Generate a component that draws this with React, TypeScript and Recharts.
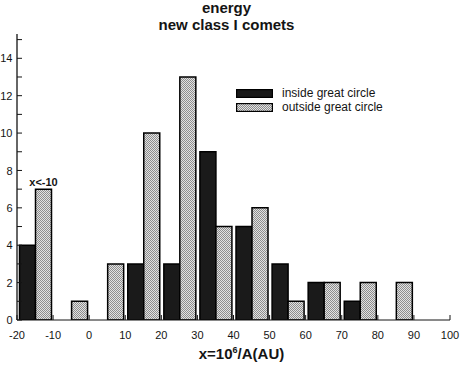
import React from 'react';
import { BarChart, Bar, XAxis, YAxis, Legend, LabelList } from 'recharts';

// Bin centers of x = 10^6/A(AU), bins 10 wide
const binCenters = [-15, -5, 5, 15, 25, 35, 45, 55, 65, 75, 85, 95];
const insideCounts = [4, 0, 0, 3, 3, 9, 5, 3, 2, 1, 0, 0];
const outsideCounts = [7, 1, 3, 10, 13, 5, 6, 1, 2, 2, 2, 0];
const binNotes = ['x<-10', '', '', '', '', '', '', '', '', '', '', ''];

const xTicks = [-20, -10, 0, 10, 20, 30, 40, 50, 60, 70, 80, 90, 100];
const yTicks = [0, 1, 2, 3, 4, 5, 6, 7, 8, 9, 10, 11, 12, 13, 14, 15];

const titleLines = ['energy', 'new class I comets'];
const seriesNames = ['inside great circle', 'outside great circle'];

const data = binCenters.map((x, i) => ({
  x,
  inside: insideCounts[i],
  outside: outsideCounts[i],
  note: binNotes[i],
}));

const INK = '#141414';
const FONT = 'Arial, "Liberation Sans", Helvetica, sans-serif';

const YTick = (props: any) => {
  const { x, y, payload } = props;
  const v = payload.value;
  return (
    <g>
      <line x1={x} x2={x + 5} y1={y} y2={y} stroke={INK} strokeWidth={1} />
      {v % 2 === 0 && (
        <text x={x - 4.5} y={y} dy="0.38em" textAnchor="end" fontSize={11} fill={INK} fontFamily={FONT}>
          {v}
        </text>
      )}
    </g>
  );
};

const XTick = (props: any) => {
  const { x, y, payload } = props;
  return (
    <g>
      <line x1={x} x2={x} y1={y} y2={y - 5} stroke={INK} strokeWidth={1} />
      <text x={x} y={y + 19} textAnchor="middle" fontSize={11} fill={INK} fontFamily={FONT}>
        {payload.value}
      </text>
    </g>
  );
};

const LegendContent = (props: any) => {
  const payload = props.payload || [];
  return (
    <div style={{ fontFamily: FONT, fontSize: 12, color: INK }}>
      {payload.map((p: any, i: number) => (
        <div key={i} style={{ display: 'flex', alignItems: 'center', height: 14, whiteSpace: 'nowrap' }}>
          <svg width={37} height={9} style={{ display: 'block' }}>
            <rect
              x={0.6}
              y={0.6}
              width={35.8}
              height={7.8}
              fill={p.dataKey === 'inside' ? '#1a1a1a' : 'url(#stipple)'}
              stroke="#000"
              strokeWidth={1.2}
            />
          </svg>
          <span style={{ marginLeft: 9 }}>{p.value}</span>
        </div>
      ))}
    </div>
  );
};

export default function App() {
  return (
    <div style={{ position: 'absolute', left: 0, top: 0, width: 462, height: 369, background: '#fff', fontFamily: FONT }}>
      <BarChart
        width={462}
        height={369}
        data={data}
        margin={{ top: 34, right: 12, bottom: 0, left: 0 }}
        barGap={0}
        barCategoryGap={2.5}
      >
        <defs>
          <pattern id="stipple" patternUnits="userSpaceOnUse" width={2} height={2}>
            <rect x={0} y={0} width={2} height={2} fill="#e2e2e2" />
            <rect x={0} y={0} width={1} height={1} fill="#8e8e8e" />
            <rect x={1} y={1} width={1} height={1} fill="#8e8e8e" />
          </pattern>
        </defs>
        <XAxis
          dataKey="x"
          type="number"
          domain={[-20, 100]}
          ticks={xTicks}
          interval={0}
          height={49}
          tickSize={0}
          tickMargin={0}
          tickLine={false}
          tick={<XTick />}
          axisLine={{ stroke: INK, strokeWidth: 1 }}
          allowDataOverflow
        />
        <YAxis
          type="number"
          domain={[0, 15.3]}
          ticks={yTicks}
          interval={0}
          width={17}
          tickSize={0}
          tickMargin={0}
          tickLine={false}
          tick={<YTick />}
          axisLine={{ stroke: INK, strokeWidth: 1.3 }}
          allowDataOverflow
        />
        <Legend
          layout="vertical"
          align="center"
          verticalAlign="middle"
          content={<LegendContent />}
          wrapperStyle={{ left: 236, top: 86, width: 'auto', height: 'auto' }}
        />
        <Bar
          dataKey="inside"
          name={seriesNames[0]}
          fill="#1a1a1a"
          stroke="#000"
          strokeWidth={1.5}
          isAnimationActive={false}
        />
        <Bar
          dataKey="outside"
          name={seriesNames[1]}
          fill="url(#stipple)"
          stroke="#000"
          strokeWidth={1.5}
          isAnimationActive={false}
        >
          <LabelList
            dataKey="note"
            position="top"
            offset={3}
            style={{ fontSize: 11, fontWeight: 'bold', fill: INK, fontFamily: FONT }}
          />
        </Bar>
      </BarChart>
      <div
        style={{
          position: 'absolute',
          left: 226.5,
          top: 0,
          transform: 'translateX(-50%)',
          textAlign: 'center',
          whiteSpace: 'nowrap',
          fontSize: 15,
          fontWeight: 'bold',
          lineHeight: '16.5px',
          color: INK,
        }}
      >
        {titleLines.map((t, i) => (
          <div key={i}>{t}</div>
        ))}
      </div>
      <div
        style={{
          position: 'absolute',
          left: 241.5,
          top: 346,
          transform: 'translateX(-50%)',
          whiteSpace: 'nowrap',
          fontSize: 15,
          fontWeight: 'bold',
          lineHeight: '15px',
          color: INK,
        }}
      >
        x=10<span style={{ fontSize: 9, verticalAlign: 'super', lineHeight: 0 }}>6</span>/A(AU)
      </div>
    </div>
  );
}
